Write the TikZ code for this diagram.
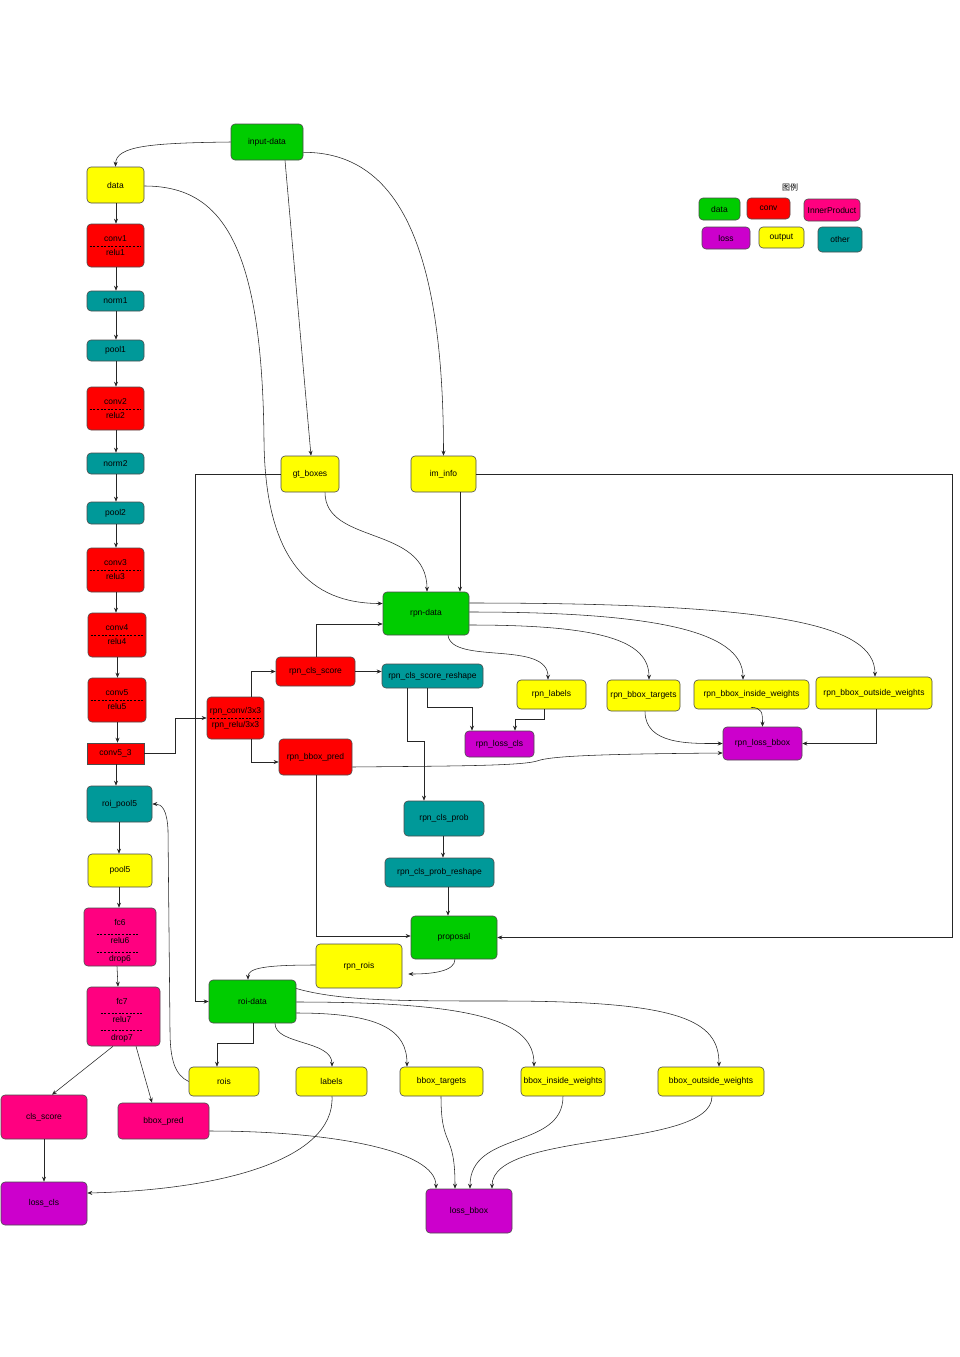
\documentclass[tikz,border=0pt]{standalone}
\usepackage{fontspec}
\setmainfont{Liberation Sans}
\newfontfamily\cjkfont{Noto Sans CJK SC}
\usetikzlibrary{arrows.meta,calc}
\definecolor{cgrn}{HTML}{00CC00}
\definecolor{cred}{HTML}{FF0000}
\definecolor{cpnk}{HTML}{FF0080}
\definecolor{cpur}{HTML}{CC00CC}
\definecolor{cyel}{HTML}{FFFF00}
\definecolor{ctea}{HTML}{009999}
\newcommand\nfont{\fontsize{8.5}{10}\selectfont}
\newcommand\mfont{\fontsize{8.5}{14}\selectfont}
\newcommand\ffont{\fontsize{8.5}{18}\selectfont}
\begin{document}
\begin{tikzpicture}[x=1pt,y=-1pt,
  nb/.style={draw=black!70, line width=0.6pt, rounded corners=4pt, inner sep=0pt, font=\nfont, align=center},
  fgrn/.style={fill=cgrn}, fred/.style={fill=cred}, fpnk/.style={fill=cpnk},
  fpur/.style={fill=cpur}, fyel/.style={fill=cyel}, ftea/.style={fill=ctea},
  arr/.style={draw=black!85, line width=0.55pt, -{Stealth[length=5pt,width=4pt]}},
  ln/.style={draw=black!85, line width=0.55pt},
  dl/.style={draw=black, line width=0.45pt, dash pattern=on 2pt off 1.6pt},
  lbl/.style={inner sep=0pt, font=\ffont, align=center}]
\useasboundingbox[fill=white] (0,0) rectangle (960,1357);

% legend
\node[font=\cjkfont\fontsize{8}{9}\selectfont, inner sep=0pt] (lgtitle) at (790,187) {图例};
\node[nb,fgrn,minimum width=41,minimum height=22] (lgdata) at (719.5,209) {data};
\node[nb,fred,minimum width=43,minimum height=21] (lgconv) at (768.5,208.5) {conv};
\node[nb,fpnk,minimum width=56,minimum height=22] (lgip) at (832,210) {InnerProduct};
\node[nb,fpur,minimum width=48,minimum height=22] (lgloss) at (726,238) {loss};
\node[nb,fyel,minimum width=45,minimum height=21] (lgout) at (781.5,237.5) {output};
\node[nb,ftea,minimum width=44,minimum height=25] (lgother) at (840,239.5) {other};

% left backbone
\node[nb,fgrn,minimum width=72,minimum height=36] (input) at (267,142) {input-data};
\node[nb,fyel,minimum width=57,minimum height=36] (data) at (115.5,185) {data};
\node[nb,fred,minimum width=57,minimum height=43,font=\mfont] (conv1) at (115.5,245.5) {conv1\\relu1};
\node[nb,ftea,minimum width=57,minimum height=20] (norm1) at (115.5,301) {norm1};
\node[nb,ftea,minimum width=57,minimum height=21] (pool1) at (115.5,350.5) {pool1};
\node[nb,fred,minimum width=57,minimum height=43,font=\mfont] (conv2) at (115.5,408.5) {conv2\\relu2};
\node[nb,ftea,minimum width=57,minimum height=21] (norm2) at (115.5,463.5) {norm2};
\node[nb,ftea,minimum width=57,minimum height=22] (pool2) at (115.5,513) {pool2};
\node[nb,fred,minimum width=57,minimum height=44,font=\mfont] (conv3) at (115.5,570) {conv3\\relu3};
\node[nb,fred,minimum width=58,minimum height=44,font=\mfont] (conv4) at (117,635) {conv4\\relu4};
\node[nb,fred,minimum width=58,minimum height=44,font=\mfont] (conv5) at (117,700) {conv5\\relu5};
\node[nb,fred,sharp corners,minimum width=57,minimum height=21] (conv53) at (115.5,753.5) {conv5\_3};
\node[nb,ftea,minimum width=65,minimum height=36] (roipool) at (119.5,804) {roi\_pool5};
\node[nb,fyel,minimum width=64,minimum height=33] (pool5) at (120,870.5) {pool5};
\node[nb,fpnk,minimum width=72,minimum height=58] (fc6) at (120,937) {};
\node[lbl] (fc6t) at (120,941) {fc6\\relu6\\drop6};
\node[nb,fpnk,minimum width=73,minimum height=59] (fc7) at (123.5,1016.5) {};
\node[lbl] (fc7t) at (122,1020) {fc7\\relu7\\drop7};
\node[nb,fpnk,minimum width=86,minimum height=44] (clsscore) at (44,1117) {cls\_score};
\node[nb,fpnk,minimum width=91,minimum height=36] (bboxpred) at (163.5,1121) {bbox\_pred};
\node[nb,fpur,minimum width=86,minimum height=43] (losscls) at (44,1203.5) {loss\_cls};

% rpn part
\node[nb,fyel,minimum width=58,minimum height=36] (gt) at (310,474) {gt\_boxes};
\node[nb,fyel,minimum width=65,minimum height=36] (iminfo) at (443.5,474) {im\_info};
\node[nb,fgrn,minimum width=86,minimum height=43] (rpndata) at (426,613.5) {rpn-data};
\node[nb,fred,minimum width=79,minimum height=29] (rpnscore) at (315.5,671.5) {rpn\_cls\_score};
\node[nb,ftea,minimum width=101,minimum height=24] (reshape) at (432.5,676) {rpn\_cls\_score\_reshape};
\node[nb,fred,minimum width=57,minimum height=42,font=\mfont] (rpnconv) at (235.5,718) {rpn\_conv/3x3\\rpn\_relu/3x3};
\node[nb,fred,minimum width=73,minimum height=36] (rpnbbox) at (315.5,757) {rpn\_bbox\_pred};
\node[nb,fpur,minimum width=69,minimum height=26] (rpnlosscls) at (499.5,744) {rpn\_loss\_cls};
\node[nb,fyel,minimum width=69,minimum height=29] (rpnlabels) at (551.5,694.5) {rpn\_labels};
\node[nb,fyel,minimum width=73,minimum height=31] (rpnbt) at (643.5,695.5) {rpn\_bbox\_targets};
\node[nb,fyel,minimum width=115,minimum height=29] (rpnbiw) at (751.5,694.5) {rpn\_bbox\_inside\_weights};
\node[nb,fyel,minimum width=116,minimum height=32] (rpnbow) at (874,693) {rpn\_bbox\_outside\_weights};
\node[nb,fpur,minimum width=79,minimum height=33] (rpnlossbbox) at (762.5,743.5) {rpn\_loss\_bbox};
\node[nb,ftea,minimum width=80,minimum height=35] (clsprob) at (444,818.5) {rpn\_cls\_prob};
\node[nb,ftea,minimum width=109,minimum height=29] (probreshape) at (439.5,872.5) {rpn\_cls\_prob\_reshape};
\node[nb,fgrn,minimum width=86,minimum height=43] (proposal) at (454,937.5) {proposal};
\node[nb,fyel,minimum width=86,minimum height=44] (rpnrois) at (359,966) {rpn\_rois};
\node[nb,fgrn,minimum width=87,minimum height=43] (roidata) at (252.5,1001.5) {roi-data};
\node[nb,fyel,minimum width=70,minimum height=29] (rois) at (224,1081.5) {rois};
\node[nb,fyel,minimum width=71,minimum height=29] (labels) at (331.5,1081.5) {labels};
\node[nb,fyel,minimum width=83,minimum height=29] (bt) at (441.5,1081.5) {bbox\_targets};
\node[nb,fyel,minimum width=84,minimum height=29] (biw) at (563,1081.5) {bbox\_inside\_weights};
\node[nb,fyel,minimum width=106,minimum height=29] (bow) at (711,1081.5) {bbox\_outside\_weights};
\node[nb,fpur,minimum width=86,minimum height=44] (lossbbox) at (469,1211) {loss\_bbox};

% dashed separators
\foreach \n in {conv1,conv2,conv3,conv4,conv5,rpnconv}
  \draw[dl] ($(\n.west)+(3,0.5)$) -- ($(\n.east)+(-3,0.5)$);
\draw[dl] ($(fc6.west)+(13,-3)$) -- ($(fc6.east)+(-17,-3)$);
\draw[dl] ($(fc6.west)+(13,15)$) -- ($(fc6.east)+(-17,15)$);
\draw[dl] ($(fc7.west)+(14,-3.5)$) -- ($(fc7.east)+(-17,-3.5)$);
\draw[dl] ($(fc7.west)+(14,13.5)$) -- ($(fc7.east)+(-17,13.5)$);

% backbone chain
\draw[arr] (input.west) .. controls (150,143) and (116,146) .. (data.north);
\foreach \a/\b in {data/conv1,conv1/norm1,norm1/pool1,pool1/conv2,conv2/norm2,norm2/pool2,pool2/conv3,conv3/conv4,conv4/conv5,conv5/conv53}
  \draw[arr] ($(\a.south)+(0.5,0)$) -- ($(\a.south|-\b.north)+(0.5,0)$);
\draw[arr] ($(conv53.south)+(0.5,0)$) -- ($(roipool.north)+(-3.5,0)$);
\draw[arr] ($(roipool.south)+(-0.5,0)$) -- ($(pool5.north)+(-1,0)$);
\draw[arr] ($(pool5.south)+(-1,0)$) -- ($(fc6.north)+(-1,0)$);
\draw[arr] ($(fc6.south)+(-3,0)$) -- ($(fc7.north)+(-5.5,0)$);
\draw[arr] ($(fc7.south)+(-10.5,0)$) -- ($(clsscore.north)+(8,0)$);
\draw[arr] ($(fc7.south)+(12.5,0)$) -- ($(bboxpred.north)+(-11.5,0)$);
\draw[arr] (clsscore.south) -- (losscls.north);

% input fan-out
\draw[arr] ($(input.south)+(18,0)$) -- ($(gt.north)+(1,0)$);
\draw[arr] ($(input.south east)+(0,-8)$) .. controls (400,152) and (443.5,250) .. (iminfo.north);
\draw[arr] ($(data.east)+(0,1)$) .. controls (220,186) and (262,240) .. (264,440)
   .. controls (265,560) and (310,603.5) .. ($(rpndata.west)+(0,-10)$);
\draw[arr] ($(gt.south)+(15,0)$) .. controls (325,545) and (427,525) .. ($(rpndata.north)+(1,0)$);
\draw[arr] ($(iminfo.south)+(16.5,0)$) -- ($(rpndata.north)+(34,0)$);
\draw[arr] (gt.west) -| ($(roidata.west)+(-13,0)$) -- (roidata.west);
\draw[arr] (iminfo.east) -| ($(proposal.east)+(455,0)$) -- (proposal.east);

% rpn-data outputs
\draw[arr] ($(rpndata.south)+(22,0)$) .. controls (452,665) and (548,640) .. ($(rpnlabels.north)+(-3.5,0)$);
\draw[arr] ($(rpndata.east)+(0,11.5)$) .. controls (600,625) and (649,640) .. ($(rpnbt.north)+(5.5,0)$);
\draw[arr] ($(rpndata.east)+(0,-1.5)$) .. controls (650,612) and (743,630) .. ($(rpnbiw.north)+(-8.5,0)$);
\draw[arr] ($(rpndata.east)+(0,-10.5)$) .. controls (780,603) and (875,625) .. ($(rpnbow.north)+(1,0)$);

% rpn head
\draw[arr] (conv53.east) -| ($(conv53.east)!0.5!(rpnconv.west)$) |- (rpnconv.west);
\draw[arr] ($(rpnconv.north)+(15.5,0)$) |- (rpnscore.west);
\draw[arr] ($(rpnconv.south)+(15.5,0)$) |- ($(rpnbbox.west)+(0,5)$);
\draw[arr] ($(rpnscore.north)+(0.5,0)$) |- ($(rpndata.west)+(0,10.5)$);
\draw[arr] (rpnscore.east) -- (rpnscore.east-|reshape.west);
\draw[arr] ($(reshape.south)+(-5.5,0)$) |- ($(rpnlosscls.north)+(-27.5,-23)$) -- ($(rpnlosscls.north)+(-27.5,0)$);
\draw[arr] ($(rpnlabels.south)+(-7,0)$) |- ($(rpnlosscls.north)+(15.5,-11)$) -- ($(rpnlosscls.north)+(15.5,0)$);
\draw[arr] ($(reshape.south)+(-25.5,0)$) |- ($(clsprob.north)+(-20,-59)$) -- ($(clsprob.north)+(-20,0)$);
\draw[arr] ($(clsprob.south)+(-1,0)$) -- ($(probreshape.north)+(3.5,0)$);
\draw[arr] ($(probreshape.south)+(8.5,0)$) -- ($(proposal.north)+(-6,0)$);
\draw[arr] ($(rpnbbox.south)+(0.5,0)$) |- ($(proposal.west)+(0,-1.5)$);
\draw[arr] ($(rpnbbox.east)+(0,10)$) .. controls (450,766) and (520,766) .. (537,761)
   .. controls (550,756) and (600,754) .. ($(rpnlossbbox.west)+(0,9.5)$);
\draw[arr] ($(rpnbt.south)+(1.5,0)$) .. controls (645,745) and (690,743.5) .. (rpnlossbbox.west);
\draw[arr] ($(rpnbiw.south)+(-0.5,-2)$) .. controls (762,708) and (762.5,712) .. (rpnlossbbox.north);
\draw[arr] ($(rpnbow.south)+(2,0)$) |- (rpnlossbbox.east);

% proposal / roi-data
\draw[arr] ($(proposal.south)+(1,0)$) .. controls (455,972) and (430,974) .. ($(rpnrois.east)+(6,8)$);
\draw[arr] ($(rpnrois.west)+(0,-1)$) .. controls (265,965) and (248,968) .. ($(roidata.north)+(-4.5,0)$);
\draw[arr] ($(roidata.south)+(0.5,0)$) |- ($(rois.north)+(-7,-23)$) -- ($(rois.north)+(-7,0)$);
\draw[arr] ($(roidata.south)+(22.5,0)$) .. controls (275,1045) and (332,1040) .. ($(labels.north)+(0.5,0)$);
\draw[arr] ($(roidata.east)+(0,11.5)$) .. controls (380,1013) and (407,1030) .. ($(bt.north)+(-34.5,0)$);
\draw[arr] ($(roidata.east)+(0,0.5)$) .. controls (480,1002) and (534,1022) .. ($(biw.north)+(-29,0)$);
\draw[arr] ($(roidata.east)+(0,-13)$) .. controls (340,1001) and (400,1001) .. (500,1001)
   .. controls (680,1001) and (719,1020) .. ($(bow.north)+(8,0)$);
\draw[arr] (rois.west) .. controls (175,1075) and (170,1060) .. (170,1030) -- (168,830)
   .. controls (167,810) and (162,804) .. (roipool.east);

% final losses
\draw[arr] ($(labels.south)+(0.5,0)$) .. controls (335,1160) and (220,1190) .. ($(losscls.east)+(0,-10.5)$);
\draw[arr] ($(bboxpred.east)+(0,10)$) .. controls (330,1131) and (436,1150) .. ($(lossbbox.north)+(-33,0)$);
\draw[arr] ($(bt.south)+(-0.5,0)$) .. controls (441,1150) and (455,1130) .. ($(lossbbox.north)+(-14,0)$);
\draw[arr] (biw.south) .. controls (563,1150) and (470,1130) .. ($(lossbbox.north)+(1,0)$);
\draw[arr] ($(bow.south)+(1,0)$) .. controls (712,1150) and (492,1130) .. ($(lossbbox.north)+(23,0)$);
\end{tikzpicture}
\end{document}
